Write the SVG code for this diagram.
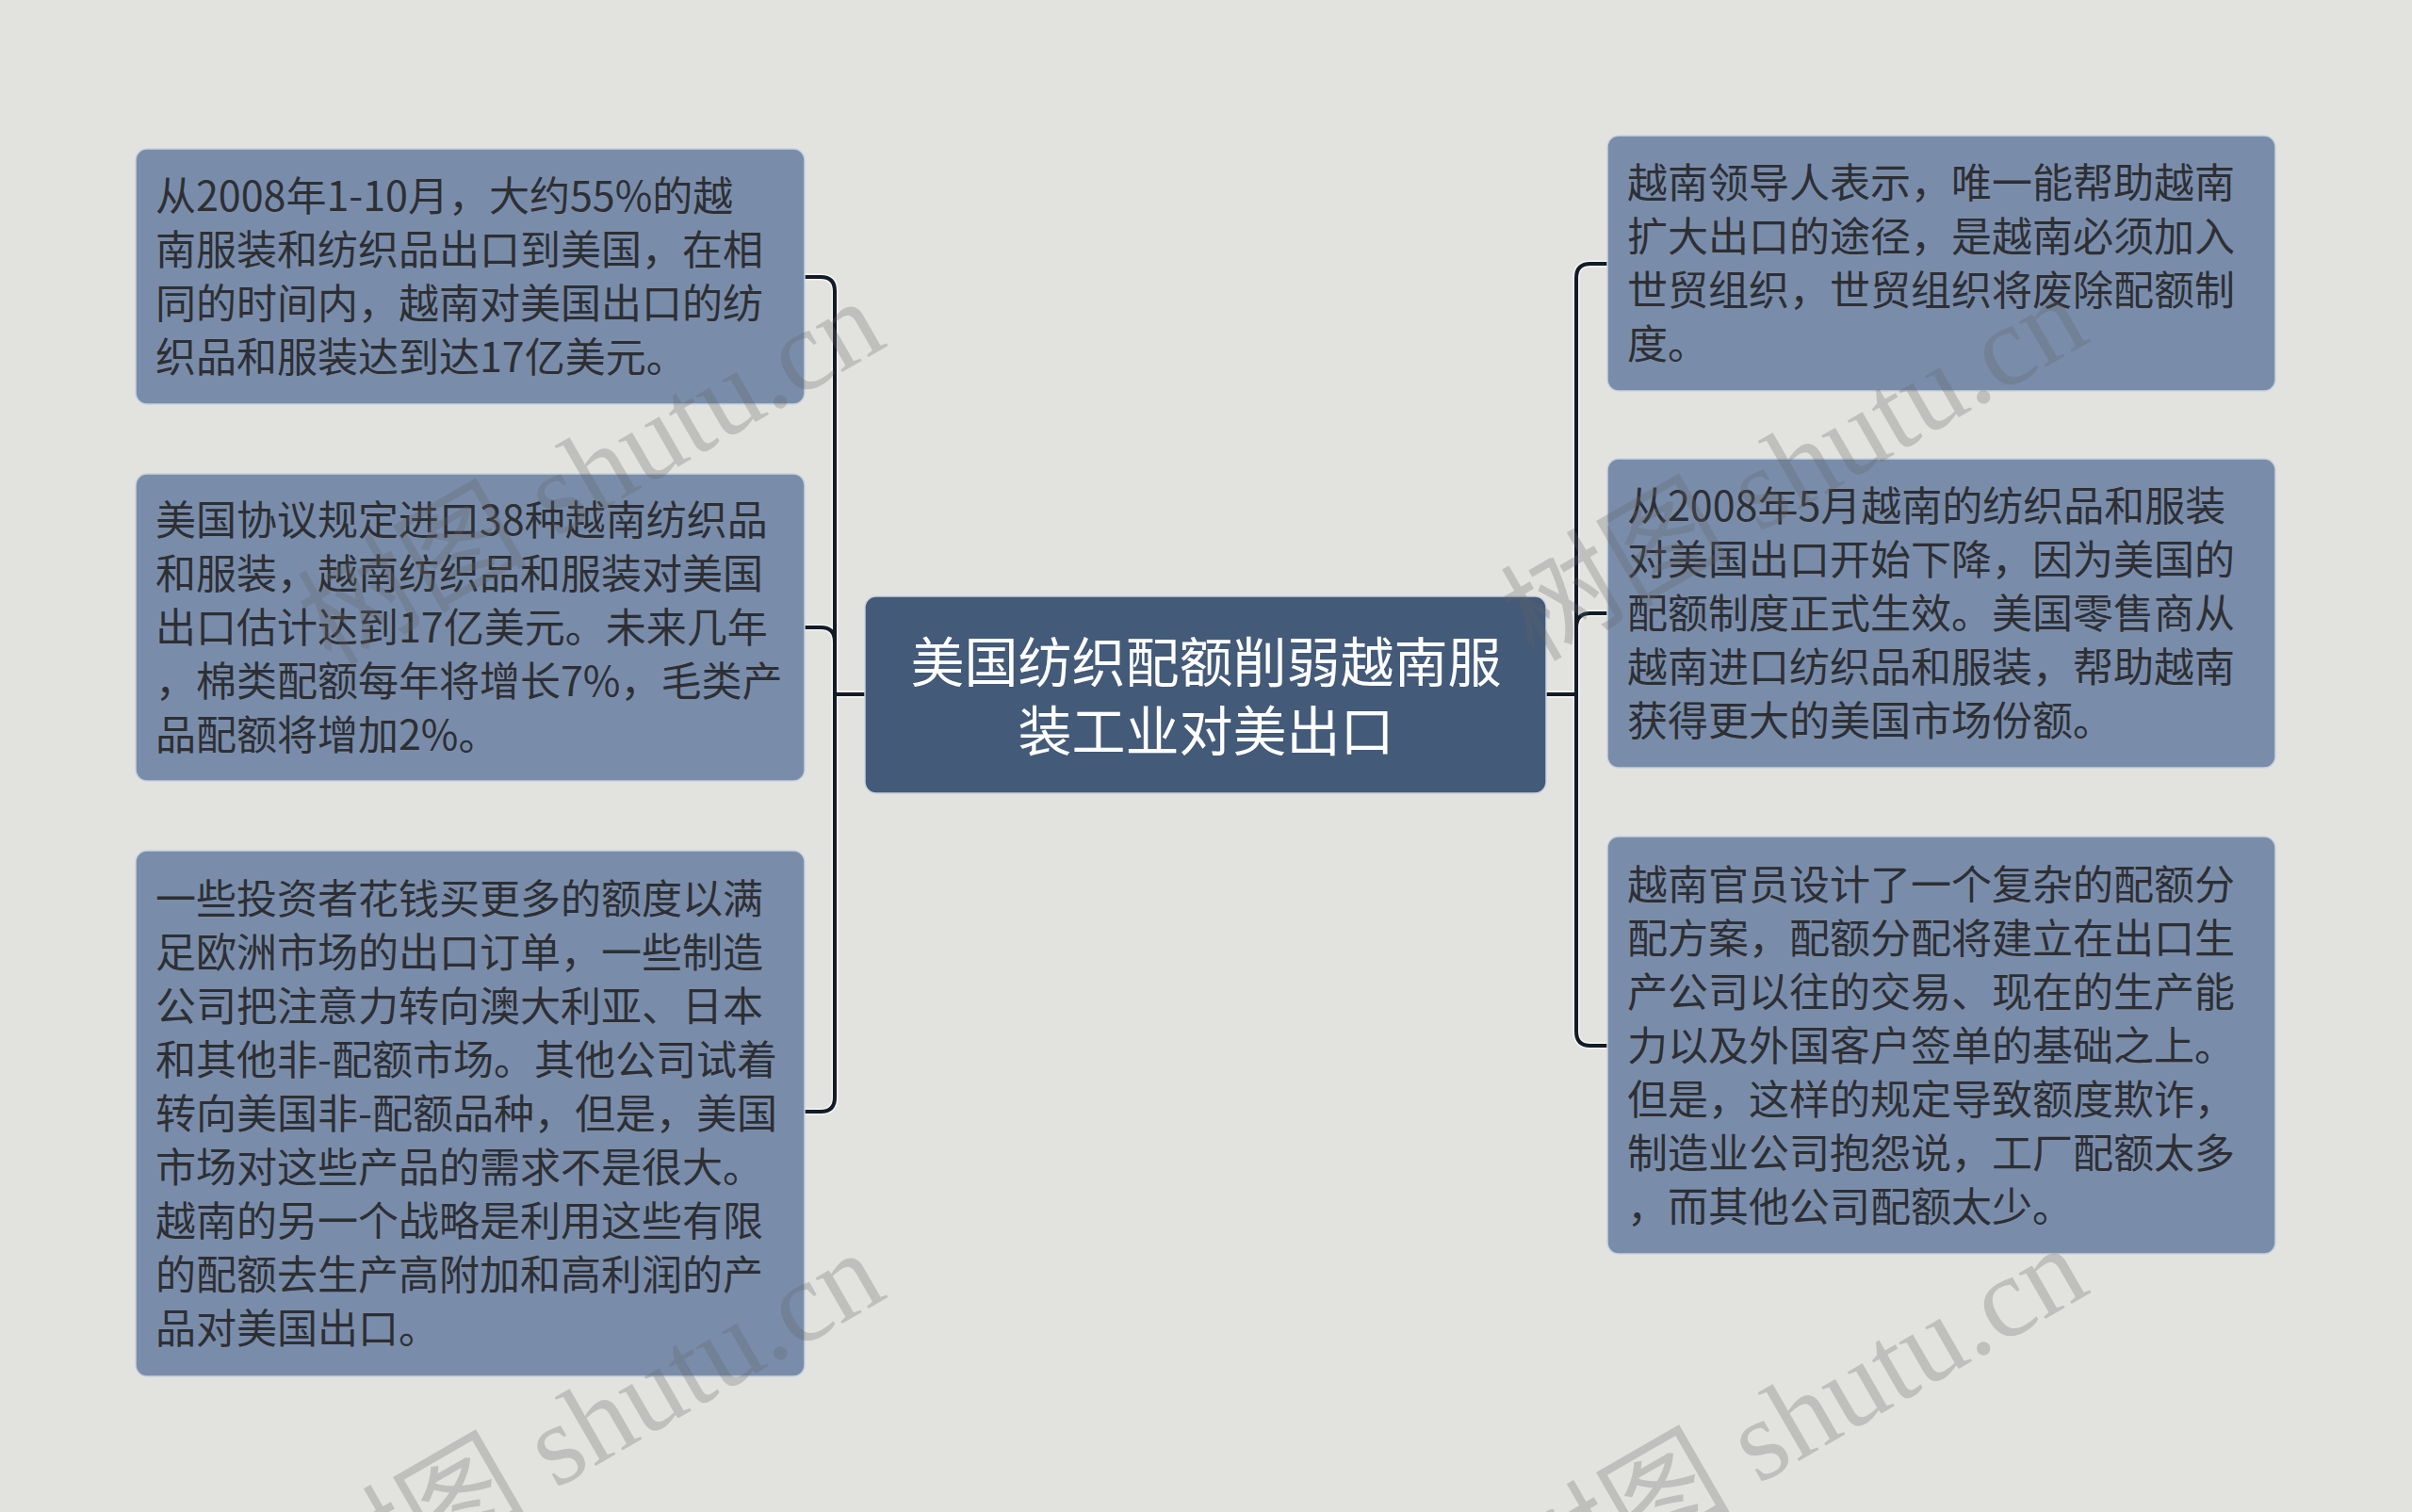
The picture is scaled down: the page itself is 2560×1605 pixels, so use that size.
<svg xmlns="http://www.w3.org/2000/svg" width="2560" height="1605" viewBox="0 0 2560 1605">
<style>
.bg{fill:#e2e3df}
.box{fill:#798dab;stroke:#c9d2de;stroke-width:1.5}
.root{fill:#435a79;stroke:#c9d2de;stroke-width:1.5}
.t{font-family:"Noto Sans CJK SC","Noto Sans",sans-serif;font-size:43px;fill:#2e2f33}
.rt{font-family:"Noto Sans CJK SC","Noto Sans",sans-serif;font-size:57px;fill:#ffffff;text-anchor:middle}
.halo{fill:none;stroke:#f4f4f1;stroke-width:7}
.line{fill:none;stroke:#131b28;stroke-width:4}
.wm{font-family:"Liberation Serif","Noto Sans CJK SC",serif;font-size:122px;fill:#666666;fill-opacity:0.28;text-anchor:end}
</style>
<rect class="bg" x="0" y="0" width="2560" height="1605"/>
<g id="connectors">
<path class="halo" d="M918,737 H886 V309 Q886,294 871,294 H854"/>
<path class="halo" d="M918,737 H886 V681 Q886,666 871,666 H854"/>
<path class="halo" d="M918,737 H886 V1165 Q886,1180 871,1180 H854"/>
<path class="halo" d="M1641,737 H1673 V295 Q1673,280 1688,280 H1706"/>
<path class="halo" d="M1641,737 H1673 V666 Q1673,651 1688,651 H1706"/>
<path class="halo" d="M1641,737 H1673 V1095 Q1673,1110 1688,1110 H1706"/>
<path class="line" d="M918,737 H886 V309 Q886,294 871,294 H854"/>
<path class="line" d="M918,737 H886 V681 Q886,666 871,666 H854"/>
<path class="line" d="M918,737 H886 V1165 Q886,1180 871,1180 H854"/>
<path class="line" d="M1641,737 H1673 V295 Q1673,280 1688,280 H1706"/>
<path class="line" d="M1641,737 H1673 V666 Q1673,651 1688,651 H1706"/>
<path class="line" d="M1641,737 H1673 V1095 Q1673,1110 1688,1110 H1706"/>
</g>
<g id="root">
<rect class="root" x="918" y="633" width="723" height="209" rx="12"/>
<text class="rt"><tspan x="1280" y="724">美国纺织配额削弱越南服</tspan><tspan x="1280" y="797">装工业对美出口</tspan></text>
</g>
<g id="left1">
<rect class="box" x="144" y="158" width="710" height="271" rx="12"/>
<text class="t"><tspan x="165" y="224">从2008年1-10月，大约55%的越</tspan><tspan x="165" y="281">南服装和纺织品出口到美国，在相</tspan><tspan x="165" y="338">同的时间内，越南对美国出口的纺</tspan><tspan x="165" y="395">织品和服装达到达17亿美元。</tspan></text>
</g>
<g id="left2">
<rect class="box" x="144" y="503" width="710" height="326" rx="12"/>
<text class="t"><tspan x="165" y="568">美国协议规定进口38种越南纺织品</tspan><tspan x="165" y="625">和服装，越南纺织品和服装对美国</tspan><tspan x="165" y="682">出口估计达到17亿美元。未来几年</tspan><tspan x="165" y="739">，棉类配额每年将增长7%，毛类产</tspan><tspan x="165" y="796">品配额将增加2%。</tspan></text>
</g>
<g id="left3">
<rect class="box" x="144" y="903" width="710" height="558" rx="12"/>
<text class="t"><tspan x="165" y="970">一些投资者花钱买更多的额度以满</tspan><tspan x="165" y="1027">足欧洲市场的出口订单，一些制造</tspan><tspan x="165" y="1084">公司把注意力转向澳大利亚、日本</tspan><tspan x="165" y="1141">和其他非-配额市场。其他公司试着</tspan><tspan x="165" y="1198">转向美国非-配额品种，但是，美国</tspan><tspan x="165" y="1255">市场对这些产品的需求不是很大。</tspan><tspan x="165" y="1312">越南的另一个战略是利用这些有限</tspan><tspan x="165" y="1369">的配额去生产高附加和高利润的产</tspan><tspan x="165" y="1426">品对美国出口。</tspan></text>
</g>
<g id="right1">
<rect class="box" x="1706" y="144" width="709" height="271" rx="12"/>
<text class="t"><tspan x="1727" y="210">越南领导人表示，唯一能帮助越南</tspan><tspan x="1727" y="267">扩大出口的途径，是越南必须加入</tspan><tspan x="1727" y="324">世贸组织，世贸组织将废除配额制</tspan><tspan x="1727" y="381">度。</tspan></text>
</g>
<g id="right2">
<rect class="box" x="1706" y="487" width="709" height="328" rx="12"/>
<text class="t"><tspan x="1727" y="553">从2008年5月越南的纺织品和服装</tspan><tspan x="1727" y="610">对美国出口开始下降，因为美国的</tspan><tspan x="1727" y="667">配额制度正式生效。美国零售商从</tspan><tspan x="1727" y="724">越南进口纺织品和服装，帮助越南</tspan><tspan x="1727" y="781">获得更大的美国市场份额。</tspan></text>
</g>
<g id="right3">
<rect class="box" x="1706" y="888" width="709" height="443" rx="12"/>
<text class="t"><tspan x="1727" y="955">越南官员设计了一个复杂的配额分</tspan><tspan x="1727" y="1012">配方案，配额分配将建立在出口生</tspan><tspan x="1727" y="1069">产公司以往的交易、现在的生产能</tspan><tspan x="1727" y="1126">力以及外国客户签单的基础之上。</tspan><tspan x="1727" y="1183">但是，这样的规定导致额度欺诈，</tspan><tspan x="1727" y="1240">制造业公司抱怨说，工厂配额太多</tspan><tspan x="1727" y="1297">，而其他公司配额太少。</tspan></text>
</g>
<g id="watermarks">
<text class="wm" transform="translate(944,366) rotate(-30)">树图 shutu.cn</text>
<text class="wm" transform="translate(944,1376) rotate(-30)">树图 shutu.cn</text>
<text class="wm" transform="translate(2221,361) rotate(-30)">树图 shutu.cn</text>
<text class="wm" transform="translate(2221,1371) rotate(-30)">树图 shutu.cn</text>
</g>
</svg>
